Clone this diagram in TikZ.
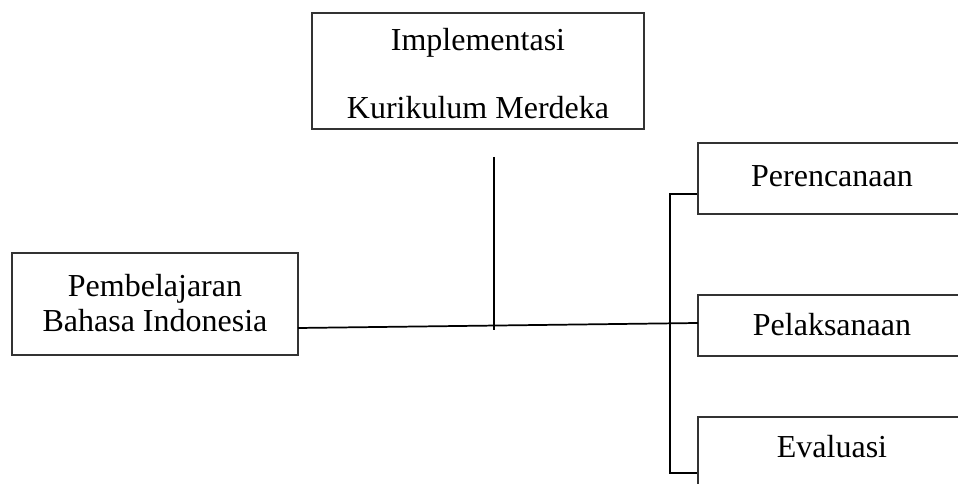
\documentclass[tikz,border=0pt]{standalone}
\usepackage{fontspec}
\setmainfont{Liberation Serif}
\begin{document}
\begin{tikzpicture}[x=0.75pt,y=-0.75pt,
  box/.style={draw=black!80,line width=0.9pt,rectangle,inner sep=0pt,fill=white},
  txt/.style={inner sep=0pt,font=\fontsize{24}{26}\selectfont,align=center},
  conn/.style={draw=black,line width=1.3pt}]
\useasboundingbox (0,0) rectangle (958,484);
\clip (0,0) rectangle (958,484);
% boxes
\node[box,minimum width=249pt,minimum height=87pt] (top) at (478,71) {};
\node[txt] (t1) at (478,43) {Implementasi};
\node[txt] (t2) at (478,108) {Kurikulum Merdeka};
\node[box,minimum width=214.5pt,minimum height=76.5pt] (left) at (155,304) {};
\node[txt,font=\fontsize{24}{26}\selectfont] (lt) at (155,303) {Pembelajaran\\Bahasa Indonesia};
\node[box,minimum width=201pt,minimum height=53.25pt] (per) at (832,178.5) {};
\node[txt] (pert) at (832,176) {Perencanaan};
\node[box,minimum width=201pt,minimum height=45.75pt] (pel) at (832,325.5) {};
\node[txt] (pelt) at (832,325) {Pelaksanaan};
\node[box,minimum width=201pt,minimum height=60pt] (eva) at (832,457) {};
\node[txt] (evat) at (832,447) {Evaluasi};
% connectors
\coordinate (a) at (298,328);
\coordinate (b) at (698,323);
\draw[conn] (a) -- (b);
\coordinate (v1) at (494,157);
\coordinate (v2) at (494,330);
\draw[conn] (v1) -- (v2);
\coordinate (k1) at (670,194);
\coordinate (k2) at (670,473);
\draw[conn] (per.west |- k1) -- (k1) -- (k2) -- (eva.west |- k2);
\end{tikzpicture}
\end{document}
